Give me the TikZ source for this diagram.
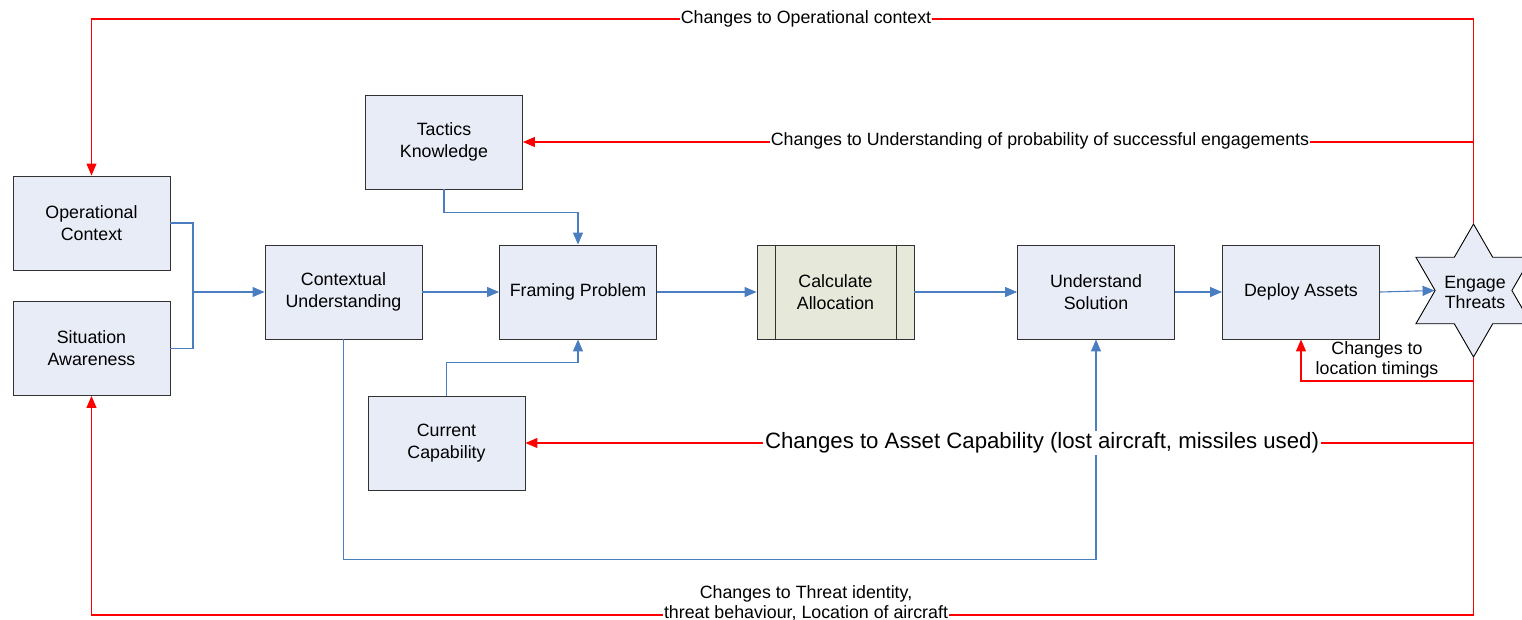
\documentclass[tikz,border=0pt]{standalone}
\usepackage{fontspec}
\setmainfont{Liberation Sans}
\usetikzlibrary{arrows.meta,shapes.geometric}
\definecolor{boxfill}{RGB}{232,236,247}
\definecolor{calcfill}{RGB}{230,233,218}
\definecolor{boxline}{RGB}{50,50,50}
\definecolor{flowblue}{RGB}{74,126,192}
\definecolor{fbred}{RGB}{255,0,0}
\tikzset{
  stepbox/.style={draw=boxline,line width=0.9pt,fill=boxfill,minimum width=157pt,minimum height=94pt,inner sep=0pt,align=center,font=\fontsize{17.8}{22}\selectfont},
  calcbox/.style={stepbox,fill=calcfill},
  bline/.style={draw=flowblue,line width=1.1pt},
  barrow/.style={bline,-{Triangle[length=12pt,width=10pt]}},
  rline/.style={draw=fbred,line width=1.1pt},
  rarrow/.style={rline,-{Triangle[length=12pt,width=10pt]}},
  smalllbl/.style={font=\fontsize{17.8}{20}\selectfont,align=center,inner sep=1pt},
  biglbl/.style={font=\fontsize{22.2}{26}\selectfont,inner sep=2pt,fill=white},
}
\begin{document}
\begin{tikzpicture}[x=1pt,y=-1pt]
\useasboundingbox (0,0) rectangle (1522,619);
\clip (0,0) rectangle (1522,619);
% boxes
\node[stepbox] (oc) at (91.5,223) {Operational\\Context};
\node[stepbox] (sa) at (91.5,348.5) {Situation\\Awareness};
\node[stepbox] (cu) at (343.5,292) {Contextual\\Understanding};
\node[stepbox] (fp) at (578,292) {Framing Problem};
\node[stepbox] (tk) at (444,142) {Tactics\\Knowledge};
\node[stepbox] (cc) at (446.5,443) {Current\\Capability};
\node[calcbox] (ca) at (835.5,292) {Calculate\\Allocation};
\draw[boxline,line width=0.9pt] ([xshift=18.5pt]ca.north west) -- ([xshift=18.5pt]ca.south west);
\draw[boxline,line width=0.9pt] ([xshift=-18.5pt]ca.north east) -- ([xshift=-18.5pt]ca.south east);
\node[stepbox] (us) at (1096,292) {Understand\\Solution};
\node[stepbox] (da) at (1301,292) {Deploy Assets};
\node[star,star points=6,star point ratio=1.732,minimum size=133pt,inner sep=0pt,draw=black,line width=0.9pt,fill=boxfill] (et) at (1473.5,290.5) {};
\node[smalllbl,align=center] (etl) at (1475,292) {Engage\\Threats};
% blue flow
\coordinate (jn) at (193,292);
\draw[bline] (oc.east) -| (jn);
\draw[bline] (sa.east) -| (jn);
\draw[barrow] (jn) -- (cu.west);
\draw[barrow] (cu.east) -- (fp.west);
\draw[barrow] (tk.south) -- ++(0,23) -| (fp.north);
\draw[barrow] (cc.north) -- ++(0,-33) -| (fp.south);
\draw[barrow] (fp.east) -- (ca.west);
\draw[barrow] (ca.east) -- (us.west);
\draw[barrow] (us.east) -- (da.west);
\draw[barrow] (da.east) -- (et.west);
\draw[barrow] (cu.south) -- ++(0,220) -| (us.south);
% red feedback
\coordinate (ytop) at (0,19);
\coordinate (ybot) at (0,615);
\coordinate (yloc) at (0,381);
\draw[rarrow] (et.north) -- (et.north |- ytop) -| (oc.north);
\draw[rarrow] (et.north |- tk.east) -- (tk.east);
\draw[rarrow] (et.south) -- (et.south |- ybot) -| (sa.south);
\draw[rarrow] (et.south |- yloc) -| (da.south);
\draw[rarrow] (et.south |- cc.east) -- (cc.east);
% labels
\node[smalllbl,fill=white] (l1) at (806,19) {Changes to Operational context};
\node[smalllbl,fill=white] (l2) at (1040,141) {Changes to Understanding of probability of successful engagements};
\node[smalllbl] (l3) at (1377,359.5) {Changes to\\location timings};
\node[biglbl] (l4) at (1042,443) {Changes to Asset Capability (lost aircraft, missiles used)};
\node[smalllbl,fill=white] (l5) at (806,603) {Changes to Threat identity,\\threat behaviour, Location of aircraft};
\end{tikzpicture}
\end{document}
